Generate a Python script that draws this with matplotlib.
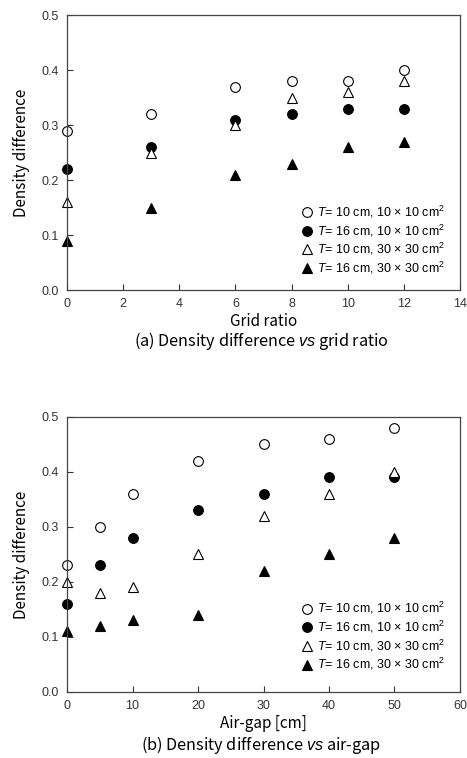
import matplotlib.pyplot as plt

plt.rcParams['font.family'] = ['Liberation Sans', 'DejaVu Sans']
plt.rcParams['mathtext.fontset'] = 'custom'
plt.rcParams['mathtext.it'] = 'Liberation Sans:italic'
plt.rcParams['mathtext.rm'] = 'Liberation Sans'

# (a) density difference vs grid ratio
grid_ratio = [0, 3, 6, 8, 10, 12]
grid_t10_10 = [0.29, 0.32, 0.37, 0.38, 0.38, 0.40]
grid_t16_10 = [0.22, 0.26, 0.31, 0.32, 0.33, 0.33]
grid_t10_30 = [0.16, 0.25, 0.30, 0.35, 0.36, 0.38]
grid_t16_30 = [0.09, 0.15, 0.21, 0.23, 0.26, 0.27]

# (b) density difference vs air-gap
air_gap = [0, 5, 10, 20, 30, 40, 50]
gap_t10_10 = [0.23, 0.30, 0.36, 0.42, 0.45, 0.46, 0.48]
gap_t16_10 = [0.16, 0.23, 0.28, 0.33, 0.36, 0.39, 0.39]
gap_t10_30 = [0.20, 0.18, 0.19, 0.25, 0.32, 0.36, 0.40]
gap_t16_30 = [0.11, 0.12, 0.13, 0.14, 0.22, 0.25, 0.28]

labels = [r'$T$= 10 cm, 10 × 10 cm$^2$', r'$T$= 16 cm, 10 × 10 cm$^2$',
          r'$T$= 10 cm, 30 × 30 cm$^2$', r'$T$= 16 cm, 30 × 30 cm$^2$']
styles = [('o', 'white'), ('o', 'black'), ('^', 'white'), ('^', 'black')]
jp = ['Noto Sans CJK JP', 'DejaVu Sans']

fig = plt.figure(figsize=(4.67, 7.58), dpi=100)
ax1 = fig.add_axes([0.1435, 0.6174, 0.8415, 0.3628])
ax2 = fig.add_axes([0.1435, 0.0871, 0.8415, 0.3628])


def draw(ax, x, series, xmax, xstep, xlabel, caption, cap_y, leg_y):
    for ys, (m, fc), lab in zip(series, styles, labels):
        ax.plot(x, ys, linestyle='none', marker=m, markersize=7 if m == 'o' else 7.5,
                markerfacecolor=fc, markeredgecolor='black', markeredgewidth=0.8,
                label=lab, clip_on=False)
    ax.set_xlim(0, xmax)
    ax.set_ylim(0, 0.5)
    ax.set_xticks(range(0, xmax + 1, xstep))
    ax.set_yticks([0, 0.1, 0.2, 0.3, 0.4, 0.5])
    ax.set_yticklabels(['0.0', '0.1', '0.2', '0.3', '0.4', '0.5'])
    ax.tick_params(direction='in', length=4, labelsize=9, color='#333333',
                   labelcolor='#333333', pad=6)
    for s in ax.spines.values():
        s.set_color('#444444')
        s.set_linewidth(0.9)
    ax.set_ylabel('Density difference', fontsize=11, family=jp, labelpad=8)
    ax.set_xlabel(xlabel, fontsize=11, family=jp, labelpad=2)
    ax.legend(loc='lower right', bbox_to_anchor=(0.99, leg_y), frameon=False,
              fontsize=9, handletextpad=0.2, labelspacing=0.2,
              handlelength=1.2)
    fig.text(0.56, cap_y, caption, ha='center', fontsize=11.7, family=jp)


draw(ax1, grid_ratio, [grid_t10_10, grid_t16_10, grid_t10_30, grid_t16_30],
     14, 2, 'Grid ratio',
     '(a) Density difference $\\it{vs}$ grid ratio', 0.543, 0.01)
draw(ax2, air_gap, [gap_t10_10, gap_t16_10, gap_t10_30, gap_t16_30],
     60, 10, 'Air-gap [cm]',
     '(b) Density difference $\\it{vs}$ air-gap', 0.011, 0.03)

fig.savefig('out.png', dpi=100, facecolor='white')
